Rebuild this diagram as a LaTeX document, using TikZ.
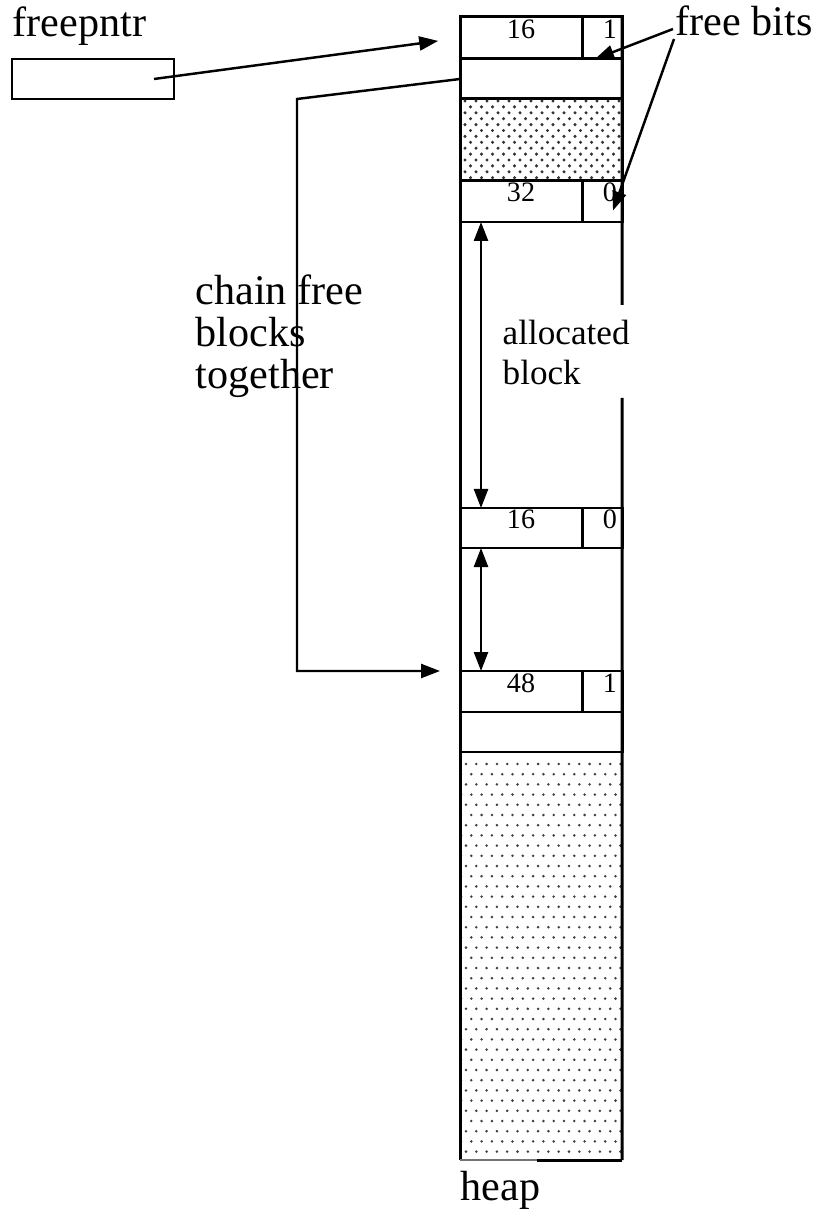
\documentclass[tikz,border=0pt]{standalone}
\usepackage{fontspec}
\setmainfont{Liberation Serif}
\usetikzlibrary{arrows.meta}

\tikzset{
  wall/.style={line width=0.85pt},
  big/.style={inner sep=0pt, font=\fontsize{12}{11.95}\selectfont},
  sizecell/.style={draw, wall, anchor=north west, inner sep=0pt, outer sep=0pt,
    minimum width=1.22cm, minimum height=0.41cm,
    text height=0.19cm, text depth=0.18cm, font=\fontsize{8}{9}\selectfont},
  bitcell/.style={sizecell, minimum width=0.40cm, text width=0.30cm, align=right},
  gapcell/.style={draw, wall, anchor=north west, inner sep=0pt, outer sep=0pt, minimum width=1.62cm},
  ptr/.style={line width=0.7pt, -{Triangle[length=0.19cm,width=0.14cm]}},
  dbl/.style={line width=0.7pt, {Triangle[length=0.19cm,width=0.14cm]}-{Triangle[length=0.19cm,width=0.14cm]}}
}

\begin{document}
\begin{tikzpicture}
\useasboundingbox (0,0) rectangle (8.17,-12.13);

% freepntr
\node[big, anchor=base west] (fplabel) at (0.12,-0.37) {freepntr};
\node[draw, line width=0.7pt, anchor=north west, minimum width=1.62cm, minimum height=0.40cm,
  inner sep=0pt, outer sep=0pt] (fp) at (0.12,-0.59) {};
\coordinate (fpsrc) at (1.54,-0.79);

% heap cells
\node[sizecell, minimum height=0.42cm] (sz1) at (4.60,-0.17) {16};
\node[bitcell, minimum height=0.42cm] (bt1) at (sz1.north east) {1};
\node[gapcell, minimum height=0.40cm] (hd1) at (sz1.south west) {};
\node[gapcell, minimum height=0.82cm] (blk1) at (hd1.south west) {};
\node[sizecell] (sz2) at (4.60,-1.81) {32};
\node[bitcell] (bt2) at (sz2.north east) {0};
\node[sizecell, minimum height=0.40cm] (sz3) at (4.60,-5.08) {16};
\node[bitcell, minimum height=0.40cm] (bt3) at (sz3.north east) {0};
\node[sizecell, minimum height=0.41cm] (sz4) at (4.60,-6.71) {48};
\node[bitcell, minimum height=0.41cm] (bt4) at (sz4.north east) {1};
\node[gapcell, minimum height=0.40cm] (hd2) at (sz4.south west) {};
\node[gapcell, draw=none, minimum height=4.08cm] (blk2) at (hd2.south west) {};

% dotted blocks
\begin{scope}
  \clip (blk1.south west) rectangle (blk1.north east);
  \foreach \r in {0,...,14}
    \foreach \c in {0,...,15}
      \fill[black!80] ({4.65+0.11*\c+0.055*mod(\r,2)},{-1.01-0.059*\r}) circle (0.017);
\end{scope}
\begin{scope}
  \clip (blk2.south west) rectangle (blk2.north east);
  \foreach \r in {0,...,40}
    \foreach \c in {0,...,16}
      \fill[black!75] ({4.66+0.103*\c-0.05*mod(\r,2)},{-7.64-0.102*\r}) circle (0.014);
\end{scope}

% walls
\draw[wall] (sz1.north west) -- (blk2.south west);
\draw[wall] (bt1.north east) -- (6.22,-3.05);
\draw[wall] (6.22,-3.98) -- (blk2.south east);
\draw[line width=0.5pt, black!55] (blk2.south west) -- ++(0.77,0);
\draw[wall] ([xshift=0.77cm]blk2.south west) -- (blk2.south east);
\node[big, anchor=base west] (heaplabel) at (4.60,-12.00) {heap};

% allocated block
\draw[dbl] ([xshift=0.21cm]sz2.south west) -- ([xshift=0.21cm]sz3.north west);
\draw[dbl] ([xshift=0.21cm]sz3.south west) -- ([xshift=0.21cm]sz4.north west);
\node[anchor=base west, align=left, inner sep=0pt,
  font=\fontsize{10}{11.4}\selectfont] (alloc) at (5.02,-3.85) {allocated\\block};

% pointers
\draw[ptr, shorten >=0.22cm] (fpsrc) -- (sz1.west);
\coordinate (chainbend) at (2.97,-0.99);
\draw[ptr, shorten >=0.20cm] (hd1.west) -- (chainbend) |- (sz4.north west);
\node[big, anchor=north west, align=left] (chain) at (1.95,-2.74) {chain free\\blocks\\together};

% free bits
\node[big, anchor=base west] (fb) at (6.75,-0.36) {free bits};
\coordinate (fbsrc1) at (6.73,-0.29);
\coordinate (fbsrc2) at (6.74,-0.39);
\draw[ptr] (fbsrc1) -- ([xshift=-0.07cm]bt1.south);
\draw[ptr] (fbsrc2) -- ([xshift=0.11cm,yshift=-0.09cm]bt2.center);
\end{tikzpicture}
\end{document}
